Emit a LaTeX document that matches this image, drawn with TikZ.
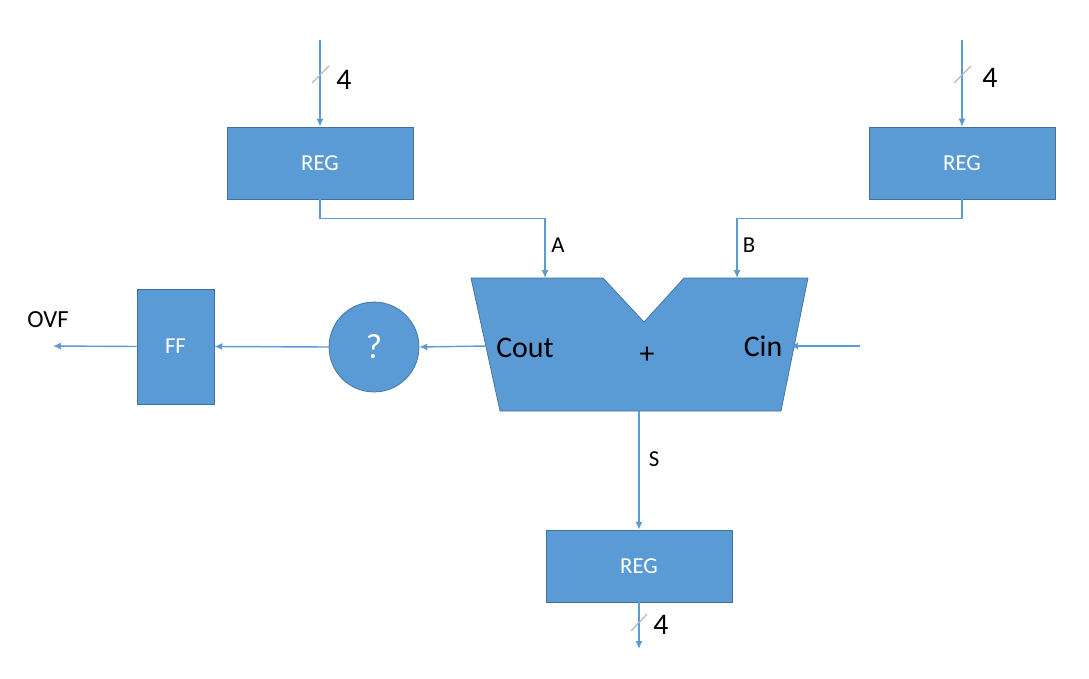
\documentclass[tikz,border=0pt]{standalone}
\usepackage{fontspec}
\setmainfont{Carlito}
\usetikzlibrary{arrows.meta}
\definecolor{blkfill}{HTML}{5B9BD5}
\definecolor{blkline}{HTML}{41719C}
\definecolor{wireblue}{HTML}{5B9BD5}
\begin{document}
\begin{tikzpicture}[x=0.02cm,y=-0.02cm,
	blk/.style={draw=blkline, fill=blkfill, text=white, inner sep=0pt, font=\fontsize{13}{15}\selectfont},
	regbox/.style={blk, minimum width=3.72cm, minimum height=1.44cm},
	wire/.style={draw=wireblue, line width=0.8pt},
	arr/.style={wire, -{Latex[length=4.5pt,width=4pt]}},
	bus/.style={draw=gray!55, line width=0.7pt},
	lbl/.style={inner sep=0pt, font=\fontsize{13}{15}\selectfont},
	big/.style={inner sep=0pt, font=\fontsize{17}{20}\selectfont}
	]
	\useasboundingbox (0,0) rectangle (1089,679);
	% registers, flip-flop and check
	\node[regbox] (rega) at (320,163) {REG};
	\node[regbox] (regb) at (962,163) {REG};
	\node[regbox] (regs) at (639,566) {REG};
	\node[blk, minimum width=1.54cm, minimum height=2.3cm] (ff) at (175.5,346.5) {FF};
	\node[blk, circle, minimum size=1.8cm, font=\fontsize{20}{24}\selectfont] (chk) at (374,347) {?};
	% adder
	\draw[draw=blkline, fill=blkfill] (471,278) -- (603,278) -- (644,322) -- (684,278) -- (808,278)
		-- (781,411) -- (500,411) -- cycle;
	\coordinate (adda) at (545,278);
	\coordinate (addb) at (737,278);
	\coordinate (adds) at (639,411);
	\coordinate (addco) at (488,346);
	\coordinate (addci) at (790,346);
	\node[big] (cout) at (525,348) {Cout};
	\node[big] (cin) at (763,346) {Cin};
	\node[big] (plus) at (647,355) {+};
	% free ends
	\coordinate (ina) at (320,40);
	\coordinate (inb) at (962,40);
	\coordinate (ci) at (860,346);
	\coordinate (ovf) at (53,346);
	\coordinate (outs) at (639,649);
	% connectors
	\draw[arr] (ina) -- (rega.north);
	\draw[arr] (inb) -- (regb.north);
	\draw[arr] (rega.south) -- ++(0,19) -| (adda);
	\draw[arr] (regb.south) -- ++(0,19) -| (addb);
	\draw[arr] (ci) -- (addci);
	\draw[arr] (addco) -- (chk.east);
	\draw[arr] (chk.west) -- (ff.east);
	\draw[arr] (ff.west) -- (ovf);
	\draw[arr] (adds) -- (regs.north);
	\draw[arr] (regs.south) -- (outs);
	% bus widths
	\draw[bus] (312,83) -- (329,66);
	\draw[bus] (954,83) -- (971,66);
	\draw[bus] (631,631) -- (647,614);
	\node[big] (wa) at (344,80) {4};
	\node[big] (wb) at (990,78) {4};
	\node[big] (ws) at (661,625) {4};
	% signal names
	\node[lbl] (la) at (558,245) {A};
	\node[lbl] (lb) at (749,245) {B};
	\node[lbl] (ls) at (654,459) {S};
	\node[lbl, font=\fontsize{14}{16}\selectfont] (lovf) at (48,320) {OVF};
\end{tikzpicture}
\end{document}
